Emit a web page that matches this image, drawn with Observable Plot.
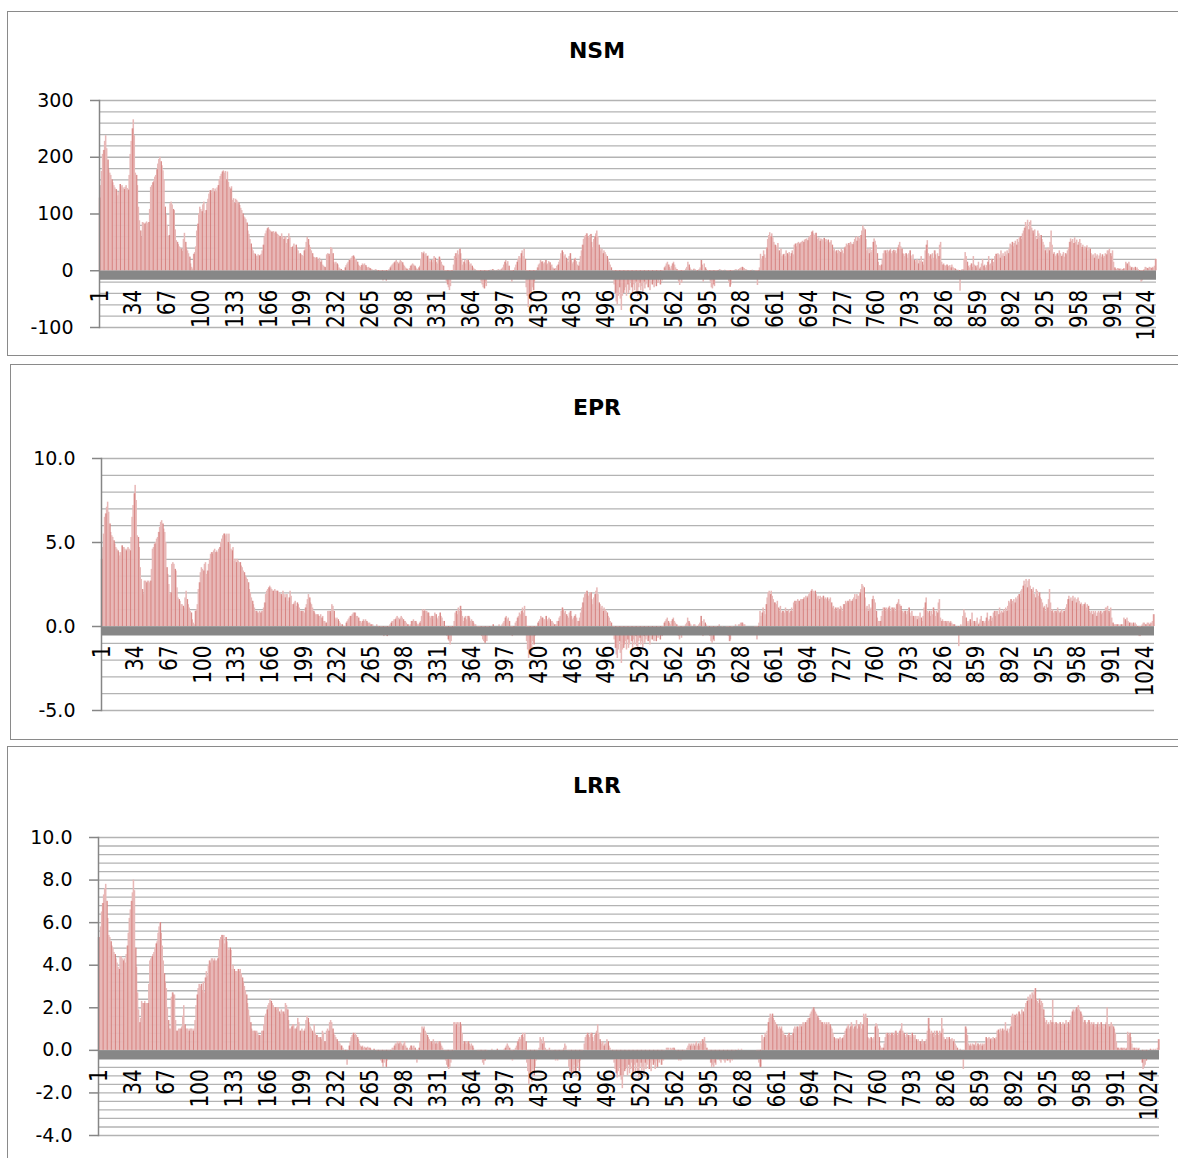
<!DOCTYPE html>
<html><head><meta charset="utf-8">
<script src="https://cdn.jsdelivr.net/npm/d3@7"></script>
<script src="https://cdn.jsdelivr.net/npm/@observablehq/plot@0.6"></script>
<style>
html,body{margin:0;padding:0;background:#fff}
body{width:1178px;height:1158px;overflow:hidden;position:relative;font-family:"DejaVu Sans",sans-serif}
.panel{position:absolute;border:1.5px solid #8a8a8a;box-sizing:border-box;background:#fff}
.title{position:absolute;left:0;width:1194px;text-align:center;font:bold 22px "DejaVu Sans",sans-serif;line-height:22px;color:#000}
.chart{position:absolute;left:0}
</style></head><body>
<div class="panel" style="left:7px;top:11px;width:1200px;height:345px"></div>
<div class="panel" style="left:10px;top:364px;width:1200px;height:376px"></div>
<div class="panel" style="left:7px;top:746px;width:1200px;height:440px"></div>
<div class="title" style="top:40px">NSM</div>
<div class="title" style="top:397px">EPR</div>
<div class="title" style="top:775px">LRR</div>
<div class="chart" id="c1" style="top:80px"></div>
<div class="chart" id="c2" style="top:438px"></div>
<div class="chart" id="c3" style="top:817px"></div>
<script>
// category tick labels (transect numbers)
const xTicks = [1,34,67,100,133,166,199,232,265,298,331,364,397,430,463,496,529,562,595,628,661,694,727,760,793,826,859,892,925,958,991,1024];
const nsmTicks = [-100,0,100,200,300];
const eprTicks = [-5,0,5,10];
const lrrTicks = [-4,-2,0,2,4,6,8,10];

// NSM (m), transects 1..1033
const nsm = [
128,150,175,205,212,228,238,215,195,178,
172,168,160,155,150,146,143,140,132,138,
152,148,150,146,143,147,150,145,142,168,
205,228,250,266,238,172,168,150,112,88,
70,59,85,84,82,84,86,83,85,108,
147,150,155,158,165,168,178,188,196,200,
192,185,176,160,112,98,80,59,62,118,
121,116,108,106,72,53,50,46,42,40,
38,34,55,66,50,40,35,30,24,12,
6,3,29,32,42,70,82,100,112,108,
104,116,121,98,106,118,126,135,141,137,
142,145,139,144,140,146,150,160,166,170,
174,176,172,175,160,174,156,147,144,148,
124,127,119,126,124,121,119,115,110,106,
100,95,93,90,84,70,64,55,47,40,
35,30,29,26,25,28,26,27,29,35,
45,59,65,70,74,76,72,70,68,68,
69,66,68,65,64,62,60,58,65,60,
55,59,60,48,55,65,58,41,41,43,
47,38,45,40,35,29,30,28,27,25,
35,40,50,59,55,45,41,35,30,24,
23,22,23,20,18,22,15,18,10,8,
6,5,28,30,29,25,41,39,30,15,
12,15,12,10,5,3,2,0,-3,-2,
5,9,12,15,18,20,22,25,26,24,
20,18,15,10,8,6,9,12,10,12,
9,6,5,6,4,3,2,1,0,1,
2,0,-2,-5,-8,-10,-15,-18,-12,-5,
-18,-8,-3,2,5,8,10,12,14,16,
18,15,12,15,18,16,14,10,8,5,
3,2,0,4,8,10,12,10,8,5,
3,2,5,8,20,32,30,33,28,30,
25,26,20,15,18,14,20,25,22,15,
12,18,24,20,15,10,8,-5,-10,-20,
-25,-30,-35,-28,-15,-8,10,25,30,22,
35,28,38,30,20,10,15,18,12,20,
18,15,10,12,8,5,3,2,0,-2,
-5,-8,-15,-20,-25,-30,-32,-20,-28,-10,
-2,0,1,0,2,1,0,-1,0,1,
2,0,1,3,5,10,15,18,12,16,
8,0,-5,-20,-10,0,5,10,15,20,
25,22,30,35,25,38,20,-30,-45,-65,
-50,-40,-55,-30,-35,-20,-10,0,5,10,
12,18,15,16,12,14,18,10,12,16,
14,8,10,5,3,2,4,8,10,15,
20,30,35,32,25,28,22,18,15,25,
30,18,12,15,20,22,16,10,8,15,
25,35,45,55,60,62,65,60,58,62,
64,50,40,55,60,65,70,60,45,40,
35,38,30,35,32,28,25,20,15,10,
5,0,-10,-25,-40,-55,-60,-45,-30,-50,
-70,-45,-40,-35,-30,-45,-25,-40,-35,-20,
-30,-42,-25,-35,-20,-38,-45,-30,-22,-35,
-28,-40,-20,-32,-25,-18,-30,-22,-35,-15,
-25,-20,-30,-18,-28,-15,-22,-12,-25,-10,
-18,-8,5,8,12,15,10,6,3,8,
12,15,10,5,2,-10,-20,-26,-15,-22,
-10,-5,0,3,6,15,10,5,2,0,
1,3,2,0,-2,0,2,5,18,10,
-20,12,5,2,0,-5,-10,-20,-30,-32,
-25,-28,-15,-10,-5,0,2,1,0,-2,
0,1,0,-3,-5,-20,-29,-25,-15,-5,
0,1,2,0,1,2,4,5,6,5,
4,2,1,0,0,0,-1,0,1,0,
0,-2,-8,-26,-10,5,29,20,25,35,
28,22,40,55,62,67,60,65,58,50,
45,44,40,48,35,30,38,25,28,29,
25,35,30,28,32,25,30,35,28,45,
47,42,48,50,47,49,50,52,50,54,
55,56,53,58,60,62,68,70,65,62,
66,60,55,58,52,56,55,53,57,50,
55,52,54,48,50,53,45,35,38,33,
35,30,36,34,32,38,35,30,40,42,
47,45,48,44,50,47,46,50,55,59,
52,60,58,56,62,70,79,75,72,55,
35,38,30,40,32,36,50,56,52,45,
30,15,9,8,10,20,30,35,35,30,
36,33,35,38,30,34,36,32,35,30,
40,45,50,42,38,30,29,25,30,28,
22,30,35,26,20,28,18,15,18,20,
12,18,16,25,15,10,20,35,45,53,
30,25,28,20,30,22,35,28,20,30,
25,45,50,15,10,12,9,8,10,6,
8,9,5,10,6,4,3,2,0,1,
-5,-36,0,2,1,20,32,25,15,8,
5,9,12,6,25,10,8,5,9,15,
3,6,12,20,8,10,5,9,15,25,
10,12,20,8,15,25,29,20,30,28,
22,35,26,30,25,33,28,35,30,38,
47,45,50,42,48,52,45,55,50,58,
60,55,65,70,75,85,80,89,72,85,
88,75,70,65,72,60,55,70,65,58,
62,55,50,45,35,38,30,40,35,50,
70,45,29,32,25,28,30,26,35,30,
25,28,32,24,30,28,35,40,50,56,
52,55,48,58,50,54,45,50,55,48,
41,45,38,42,40,44,35,40,38,30,
26,28,22,30,25,28,20,26,30,24,
28,22,25,30,28,35,35,38,30,25,
35,15,5,3,2,4,3,2,3,1,
2,4,3,15,12,10,15,8,5,6,
5,4,6,3,5,2,-5,-15,-20,-18,
-10,2,6,5,4,3,6,5,4,6,
5,8,20
];

// EPR (m/yr), transects 1..1033
const epr = [
4.0,4.7,5.5,6.5,6.7,7.1,7.4,6.8,6.1,5.6,
5.4,5.3,5.1,4.9,4.7,4.6,4.5,4.4,4.2,4.4,
4.8,4.7,4.7,4.6,4.5,4.6,4.7,4.6,4.5,5.3,
6.5,7.2,7.9,8.4,7.5,5.4,5.3,4.7,3.5,2.8,
2.2,1.9,2.7,2.7,2.6,2.7,2.7,2.6,2.7,3.4,
4.6,4.7,4.9,5.0,5.2,5.3,5.6,5.9,6.2,6.3,
6.1,5.8,5.6,5.0,3.5,3.1,2.5,1.9,2.0,3.7,
3.8,3.7,3.4,3.3,2.3,1.7,1.6,1.5,1.3,1.3,
1.2,1.1,1.7,2.1,1.6,1.3,1.1,0.9,0.8,0.4,
0.2,0.1,0.9,1.0,1.3,2.2,2.6,3.2,3.5,3.4,
3.3,3.7,3.8,3.1,3.3,3.7,4.0,4.3,4.4,4.3,
4.5,4.6,4.4,4.5,4.4,4.6,4.7,5.0,5.2,5.4,
5.5,5.5,5.4,5.5,5.0,5.5,4.9,4.6,4.5,4.7,
3.9,4.0,3.8,4.0,3.9,3.8,3.8,3.6,3.5,3.3,
3.2,3.0,2.9,2.8,2.6,2.2,2.0,1.7,1.5,1.3,
1.1,0.9,0.9,0.8,0.8,0.9,0.8,0.9,0.9,1.1,
1.4,1.9,2.1,2.2,2.3,2.4,2.3,2.2,2.1,2.1,
2.2,2.1,2.1,2.1,2.0,2.0,1.9,1.8,2.1,1.9,
1.7,1.9,1.9,1.5,1.7,2.1,1.8,1.3,1.3,1.4,
1.5,1.2,1.4,1.3,1.1,0.9,0.9,0.9,0.9,0.8,
1.1,1.3,1.6,1.9,1.7,1.4,1.3,1.1,0.9,0.8,
0.7,0.7,0.7,0.6,0.6,0.7,0.5,0.6,0.3,0.3,
0.2,0.2,0.9,0.9,0.9,0.8,1.3,1.2,0.9,0.5,
0.4,0.5,0.4,0.3,0.2,0.1,0.1,0.0,-0.1,-0.1,
0.2,0.3,0.4,0.5,0.6,0.6,0.7,0.8,0.8,0.8,
0.6,0.6,0.5,0.3,0.3,0.2,0.3,0.4,0.3,0.4,
0.3,0.2,0.2,0.2,0.1,0.1,0.1,0.0,0.0,0.0,
0.1,0.0,-0.1,-0.2,-0.3,-0.3,-0.5,-0.6,-0.4,-0.2,
-0.6,-0.3,-0.1,0.1,0.2,0.3,0.3,0.4,0.4,0.5,
0.6,0.5,0.4,0.5,0.6,0.5,0.4,0.3,0.3,0.2,
0.1,0.1,0.0,0.1,0.3,0.3,0.4,0.3,0.3,0.2,
0.1,0.1,0.2,0.3,0.6,1.0,0.9,1.0,0.9,0.9,
0.8,0.8,0.6,0.5,0.6,0.4,0.6,0.8,0.7,0.5,
0.4,0.6,0.8,0.6,0.5,0.3,0.3,-0.2,-0.3,-0.6,
-0.8,-0.9,-1.1,-0.9,-0.5,-0.3,0.3,0.8,0.9,0.7,
1.1,0.9,1.2,0.9,0.6,0.3,0.5,0.6,0.4,0.6,
0.6,0.5,0.3,0.4,0.3,0.2,0.1,0.1,0.0,-0.1,
-0.2,-0.3,-0.5,-0.6,-0.8,-0.9,-1.0,-0.6,-0.9,-0.3,
-0.1,0.0,0.0,0.0,0.1,0.0,0.0,0.0,0.0,0.0,
0.1,0.0,0.0,0.1,0.2,0.3,0.5,0.6,0.4,0.5,
0.3,0.0,-0.2,-0.6,-0.3,0.0,0.2,0.3,0.5,0.6,
0.8,0.7,0.9,1.1,0.8,1.2,0.6,-0.9,-1.4,-1.9,
-1.6,-1.3,-1.7,-0.9,-1.1,-0.6,-0.3,0.0,0.2,0.3,
0.4,0.6,0.5,0.5,0.4,0.4,0.6,0.3,0.4,0.5,
0.4,0.3,0.3,0.2,0.1,0.1,0.1,0.3,0.3,0.5,
0.6,0.9,1.1,1.0,0.8,0.9,0.7,0.6,0.5,0.8,
0.9,0.6,0.4,0.5,0.6,0.7,0.5,0.3,0.3,0.5,
0.8,1.1,1.4,1.7,1.9,2.0,2.1,1.9,1.8,2.0,
2.0,1.6,1.3,1.7,1.9,2.1,2.3,1.9,1.4,1.3,
1.1,1.2,0.9,1.1,1.0,0.9,0.8,0.6,0.5,0.3,
0.2,0.0,-0.3,-0.8,-1.3,-1.7,-1.9,-1.4,-0.9,-1.6,
-2.2,-1.4,-1.3,-1.1,-0.9,-1.4,-0.8,-1.3,-1.1,-0.6,
-0.9,-1.3,-0.8,-1.1,-0.6,-1.2,-1.4,-0.9,-0.7,-1.1,
-0.9,-1.3,-0.6,-1.0,-0.8,-0.6,-0.9,-0.7,-1.1,-0.5,
-0.8,-0.6,-0.9,-0.6,-0.9,-0.5,-0.7,-0.4,-0.8,-0.3,
-0.6,-0.3,0.2,0.3,0.4,0.5,0.3,0.2,0.1,0.3,
0.4,0.5,0.3,0.2,0.1,-0.3,-0.6,-0.8,-0.5,-0.7,
-0.3,-0.2,0.0,0.1,0.2,0.5,0.3,0.2,0.1,0.0,
0.0,0.1,0.1,0.0,-0.1,0.0,0.1,0.2,0.6,0.3,
-0.6,0.4,0.2,0.1,0.0,-0.2,-0.3,-0.6,-0.9,-1.0,
-0.8,-0.9,-0.5,-0.3,-0.2,0.0,0.1,0.0,0.0,-0.1,
0.0,0.0,0.0,-0.1,-0.2,-0.6,-0.9,-0.8,-0.5,-0.2,
0.0,0.0,0.1,0.0,0.0,0.1,0.1,0.2,0.2,0.2,
0.1,0.1,0.0,0.0,0.0,0.0,0.0,0.0,0.0,0.0,
0.0,-0.1,-0.3,-0.8,-0.3,0.2,0.9,0.6,0.8,1.1,
0.9,0.7,1.3,1.7,2.0,2.1,1.9,2.1,1.8,1.6,
1.4,1.4,1.3,1.5,1.1,0.9,1.2,0.8,0.9,0.9,
0.8,1.1,0.9,0.9,1.0,0.8,0.9,1.1,0.9,1.4,
1.5,1.3,1.5,1.6,1.5,1.5,1.6,1.6,1.6,1.7,
1.7,1.8,1.7,1.8,1.9,2.0,2.1,2.2,2.1,2.0,
2.1,1.9,1.7,1.8,1.6,1.8,1.7,1.7,1.8,1.6,
1.7,1.6,1.7,1.5,1.6,1.7,1.4,1.1,1.2,1.0,
1.1,0.9,1.1,1.1,1.0,1.2,1.1,0.9,1.3,1.3,
1.5,1.4,1.5,1.4,1.6,1.5,1.5,1.6,1.7,1.9,
1.6,1.9,1.8,1.8,2.0,2.2,2.5,2.4,2.3,1.7,
1.1,1.2,0.9,1.3,1.0,1.1,1.6,1.8,1.6,1.4,
0.9,0.5,0.3,0.3,0.3,0.6,0.9,1.1,1.1,0.9,
1.1,1.0,1.1,1.2,0.9,1.1,1.1,1.0,1.1,0.9,
1.3,1.4,1.6,1.3,1.2,0.9,0.9,0.8,0.9,0.9,
0.7,0.9,1.1,0.8,0.6,0.9,0.6,0.5,0.6,0.6,
0.4,0.6,0.5,0.8,0.5,0.3,0.6,1.1,1.4,1.7,
0.9,0.8,0.9,0.6,0.9,0.7,1.1,0.9,0.6,0.9,
0.8,1.4,1.6,0.5,0.3,0.4,0.3,0.3,0.3,0.2,
0.3,0.3,0.2,0.3,0.2,0.1,0.1,0.1,0.0,0.0,
-0.2,-1.2,0.0,0.1,0.0,0.6,1.0,0.8,0.5,0.3,
0.2,0.3,0.4,0.2,0.8,0.3,0.3,0.2,0.3,0.5,
0.1,0.2,0.4,0.6,0.3,0.3,0.2,0.3,0.5,0.8,
0.3,0.4,0.6,0.3,0.5,0.8,0.9,0.6,0.9,0.9,
0.7,1.1,0.8,0.9,0.8,1.0,0.9,1.1,0.9,1.2,
1.5,1.4,1.6,1.3,1.5,1.6,1.4,1.7,1.6,1.8,
1.9,1.7,2.1,2.2,2.4,2.7,2.5,2.8,2.3,2.7,
2.8,2.4,2.2,2.1,2.3,1.9,1.7,2.2,2.1,1.8,
2.0,1.7,1.6,1.4,1.1,1.2,0.9,1.3,1.1,1.6,
2.2,1.4,0.9,1.0,0.8,0.9,0.9,0.8,1.1,0.9,
0.8,0.9,1.0,0.8,0.9,0.9,1.1,1.3,1.6,1.8,
1.6,1.7,1.5,1.8,1.6,1.7,1.4,1.6,1.7,1.5,
1.3,1.4,1.2,1.3,1.3,1.4,1.1,1.3,1.2,0.9,
0.8,0.9,0.7,0.9,0.8,0.9,0.6,0.8,0.9,0.8,
0.9,0.7,0.8,0.9,0.9,1.1,1.1,1.2,0.9,0.8,
1.1,0.5,0.2,0.1,0.1,0.1,0.1,0.1,0.1,0.0,
0.1,0.1,0.1,0.5,0.4,0.3,0.5,0.3,0.2,0.2,
0.2,0.1,0.2,0.1,0.2,0.1,-0.2,-0.5,-0.6,-0.6,
-0.3,0.1,0.2,0.2,0.1,0.1,0.2,0.2,0.1,0.2,
0.2,0.3,0.7
];

// LRR (m/yr), transects 1..1033
const lrr = [
5.3,5.3,5.8,6.5,6.9,7.3,7.6,7.8,7.0,6.2,
5.4,5.3,5.1,4.9,4.8,4.6,4.5,4.3,4.1,3.9,
3.8,4.4,4.4,4.3,4.2,4.3,4.1,4.5,4.9,5.5,
6.2,6.6,7.0,7.4,8.0,7.5,4.8,3.9,2.7,1.9,
1.3,1.5,2.3,2.2,2.2,2.3,2.2,2.2,2.2,3.1,
4.2,4.3,4.4,4.5,4.6,4.8,5.0,5.1,5.5,5.8,
6.0,5.5,4.9,4.2,3.6,3.2,2.9,2.0,1.4,1.0,
1.0,2.5,2.7,2.6,2.6,1.4,0.9,0.9,1.0,1.0,
1.0,1.1,1.6,2.1,1.2,1.0,1.0,1.0,0.9,1.0,
1.0,1.0,0.9,1.0,1.4,2.1,2.6,2.9,3.1,3.0,
3.1,2.8,3.2,2.7,3.4,3.7,3.5,4.0,4.2,4.1,
4.3,4.3,4.2,4.3,4.2,4.2,4.3,4.8,5.2,5.3,
5.4,5.2,5.4,5.0,5.3,5.1,4.8,4.7,4.8,4.7,
3.8,4.0,3.8,3.7,3.7,3.7,3.8,3.7,3.8,3.6,
3.4,3.2,3.0,2.8,2.6,2.2,1.9,1.6,1.3,1.0,
0.9,0.9,0.9,0.8,0.9,0.8,0.7,0.7,0.7,0.9,
0.9,1.2,1.6,1.7,1.9,2.1,2.2,2.4,2.3,2.2,
2.1,2.0,2.0,1.9,2.0,2.0,1.8,1.7,1.9,1.8,
1.8,1.7,2.2,2.1,1.9,1.4,1.0,1.0,1.1,1.2,
1.2,1.0,1.0,1.1,1.5,1.3,0.9,0.9,1.0,0.9,
0.9,1.0,1.4,1.6,1.5,1.3,1.1,1.0,0.9,0.8,
1.2,0.8,0.7,0.7,0.6,0.6,0.6,0.5,0.9,0.8,
0.4,0.4,0.9,1.0,0.9,1.3,1.4,1.3,1.0,0.8,
0.7,0.6,0.5,0.4,0.4,0.3,0.2,0.2,0.1,0.0,
-0.2,-0.4,-0.7,0.0,0.2,0.4,0.6,0.7,0.8,0.7,
0.8,0.7,0.6,0.5,0.3,0.2,0.15,0.2,0.1,0.15,
0.1,0.1,0.15,0.1,0.1,0.05,0.0,0.0,0.05,0.0,
0.0,-0.1,-0.2,-0.3,-0.4,-0.5,-0.6,-0.8,-0.6,-0.4,
-0.8,-0.5,-0.3,-0.4,-0.2,0.0,0.1,0.1,0.2,0.3,
0.3,0.4,0.3,0.4,0.4,0.3,0.2,0.3,0.4,0.2,
0.1,0.0,0.0,0.1,0.2,0.2,0.1,0.2,0.1,0.0,
-0.6,0.0,0.1,0.4,0.8,1.1,1.0,1.1,0.9,0.8,
0.7,0.6,0.5,0.4,0.4,0.3,0.5,0.4,0.3,0.4,
0.3,0.4,0.4,0.3,0.2,0.1,0.0,-0.3,-0.5,-0.7,
-0.8,-0.9,-0.8,-0.6,-0.3,-0.1,1.3,1.3,1.2,1.3,
1.3,1.1,1.3,1.2,0.8,0.3,0.4,0.4,0.3,0.4,
0.4,0.3,0.2,0.3,0.2,0.1,0.0,0.0,0.0,-0.1,
-0.1,-0.2,-0.3,-0.4,-0.6,-0.7,-0.5,-0.3,-0.1,0.0,
0.0,0.0,0.0,0.05,0.0,0.0,0.0,0.0,0.05,0.0,
0.0,0.0,0.0,0.0,0.0,0.05,0.1,0.2,0.3,0.2,
0.1,0.0,-0.2,-0.5,-0.2,0.0,0.1,0.2,0.4,0.5,
0.6,0.5,0.7,0.8,0.6,0.8,0.4,-0.6,-1.0,-1.6,
-1.2,-1.0,-1.5,-0.9,-1.2,-0.8,-0.5,-0.2,0.0,0.1,
0.6,0.5,0.3,0.6,0.4,0.1,-0.1,-0.3,-0.1,0.1,
0.0,-0.2,-0.1,0.0,-0.3,-0.5,-0.4,-0.5,-0.3,-0.1,
-0.2,-0.4,-0.2,0.1,0.3,0.2,0.0,-0.3,-0.8,-1.0,
-1.2,-0.9,-1.1,-0.7,-1.0,-1.2,-0.8,-0.6,-1.0,-0.5,
-0.4,-0.2,0.0,0.3,0.6,0.7,0.8,0.7,0.6,0.8,
0.8,0.6,0.4,0.7,0.8,0.9,1.2,0.8,0.5,0.4,
0.3,0.4,0.2,0.3,0.3,0.5,0.4,0.2,0.1,0.0,
-0.2,-0.4,-0.6,-0.9,-1.1,-1.3,-1.0,-0.8,-1.2,-1.4,
-1.8,-1.2,-1.0,-0.9,-0.8,-1.2,-0.7,-1.1,-0.9,-0.6,
-1.3,-1.0,-0.7,-1.0,-0.6,-1.1,-1.3,-0.8,-0.6,-1.0,
-0.8,-1.2,-0.6,-0.9,-0.7,-0.5,-0.9,-0.6,-1.0,-0.5,
-0.7,-0.6,-0.9,-0.5,-0.8,-0.4,-0.6,-0.3,-0.7,-0.3,
-0.5,-0.2,0.0,0.1,0.1,0.1,0.0,0.1,0.05,0.1,
0.1,0.05,0.0,-0.2,-0.4,-0.5,-0.4,-0.5,-0.3,-0.4,
-0.2,-0.1,0.0,0.1,0.2,0.3,0.2,0.3,0.2,0.3,
0.2,0.3,0.4,0.2,0.3,0.2,0.4,0.3,0.5,0.4,
0.6,0.3,0.1,0.0,-0.2,-0.4,-0.6,-0.8,-0.7,-0.8,
-0.6,-0.7,-0.4,-0.2,-0.3,-0.5,-0.6,-0.4,-0.3,-0.5,
-0.6,-0.4,-0.5,-0.3,-0.5,-0.6,-0.4,-0.5,-0.3,-0.2,
-0.1,0.0,0.0,0.05,0.0,0.0,0.05,0.0,0.0,0.0,
0.0,0.0,0.0,0.0,0.0,0.0,0.0,0.0,0.0,0.0,
0.0,-0.1,-0.3,-0.6,-0.8,-0.8,0.7,0.5,0.6,0.8,
0.7,0.9,1.3,1.5,1.7,1.6,1.7,1.5,1.4,1.3,
1.2,1.1,1.0,1.1,1.0,1.1,0.9,0.8,0.7,0.7,
0.6,0.7,0.8,0.6,0.7,0.7,0.8,1.0,1.1,1.0,
1.1,1.0,1.1,1.2,1.1,1.2,1.3,1.2,1.3,1.3,
1.4,1.5,1.5,1.7,1.8,1.9,2.0,1.9,1.8,1.7,
1.6,1.5,1.4,1.4,1.3,1.3,1.2,1.3,1.2,1.3,
1.2,1.3,1.2,1.1,1.0,0.8,0.6,0.55,0.5,0.55,
0.5,0.55,0.6,0.5,0.55,0.6,0.7,0.9,1.0,1.1,
1.2,1.0,1.1,1.3,1.2,1.0,1.1,1.2,1.4,1.0,
1.2,1.1,1.3,1.0,1.2,1.7,1.6,1.7,1.5,0.6,
0.55,0.5,0.6,0.55,0.5,0.6,1.1,1.25,1.2,1.0,
0.6,0.2,0.1,0.1,0.1,0.3,0.6,0.8,0.8,0.7,
0.8,0.7,0.8,0.8,0.7,0.8,0.9,0.8,0.7,0.8,
0.9,1.0,1.25,0.9,0.8,0.7,0.6,0.8,0.7,0.6,
0.7,0.6,0.8,0.7,0.6,0.7,0.5,0.4,0.5,0.4,
0.4,0.3,0.5,0.4,0.4,0.3,0.5,0.9,1.5,1.0,
0.8,0.9,0.8,0.6,0.9,0.7,0.9,0.8,0.7,0.9,
0.8,1.5,1.0,0.6,0.5,0.5,0.6,0.5,0.6,0.5,
0.5,0.55,0.4,0.5,0.3,0.2,0.1,0.0,0.0,0.05,
0.0,0.0,-0.9,0.0,1.1,1.0,0.7,0.3,0.2,0.3,
0.2,0.3,0.25,0.2,0.4,0.2,0.3,0.2,0.25,0.3,
0.2,0.3,0.25,0.3,0.6,0.5,0.55,0.6,0.5,0.55,
0.5,0.6,0.55,0.5,0.6,0.9,0.95,0.8,1.0,0.9,
1.0,0.9,0.95,1.3,0.9,1.0,0.8,1.0,1.1,1.6,
1.7,1.6,1.65,1.5,1.7,1.6,1.8,1.7,1.65,1.9,
1.8,1.7,2.0,2.2,2.3,2.5,2.4,2.6,2.4,2.7,
2.6,2.8,2.9,2.4,2.3,2.2,2.4,2.1,2.3,2.2,
1.9,1.5,1.3,1.4,1.2,1.3,1.2,1.4,1.3,2.35,
1.3,1.2,1.3,1.1,1.25,1.2,1.3,1.1,1.2,1.3,
1.2,1.25,1.4,1.1,1.3,1.2,1.4,1.6,1.8,1.9,
1.8,1.9,2.0,1.9,2.1,1.9,1.8,1.7,1.6,1.3,
1.4,1.3,1.2,1.3,1.4,1.3,1.2,1.3,1.2,1.3,
1.2,1.1,1.2,1.3,1.1,1.2,1.3,1.1,1.2,1.0,
1.2,1.3,2.0,1.2,1.1,1.2,1.3,1.2,1.1,1.0,
0.8,0.4,0.1,0.1,0.05,0.1,0.1,0.05,0.1,0.1,
0.05,0.1,0.85,0.7,0.8,0.6,0.3,0.1,0.1,0.05,
0.1,0.1,0.05,0.1,0.0,0.0,-0.6,-0.9,-0.8,-0.7,
-0.5,-0.2,0.0,0.0,0.05,0.0,0.0,0.05,0.0,0.05,
0.0,0.1,0.5
];

function chart(values, o) {
  const data = values.map((v, k) => ({i: k + 1, v}));
  const svg = Plot.plot({
    width: 1178,
    height: o.plotH + 40,
    marginTop: 20, marginBottom: 20,
    marginLeft: o.ml, marginRight: o.mr,
    style: {background: "transparent", overflow: "visible", fontFamily: "DejaVu Sans, sans-serif", fontSize: "19px", color: "#000"},
    x: {type: "band", domain: data.map(d => d.i), padding: 0, round: false, axis: null},
    y: {domain: o.domain, axis: null},
    marks: [
      Plot.ruleY(o.grid, {stroke: "#b3b3b3", strokeWidth: 1.3}),
      Plot.barY(data, {x: "i", y: "v", fill: "#e8b8b7", insetLeft: -0.25, insetRight: -0.25}),
      Plot.ruleX(data.filter(d => d.i % 4 === 1), {x: "i", y1: 0, y2: "v", stroke: "#cf6b68", strokeWidth: 0.7}),
      Plot.ruleY([0], {stroke: "#878787", strokeWidth: 9, dy: 4.5}),
      Plot.frame({anchor: "left", stroke: "#868686", strokeWidth: 1.5}),
      Plot.axisY({ticks: o.ticks, tickSize: 9, tickPadding: 17, tickFormat: o.fmt, label: null, fontSize: 19, stroke: "#868686", fill: "#000", strokeWidth: 1.5}),
      Plot.text(xTicks, {x: d => d, y: 0, text: d => String(d), rotate: -90, textAnchor: "end", lineAnchor: "middle", dy: 19, fontSize: 20, fill: "#000"})
    ]
  });
  // widen the rotated category labels a little, like the stretched original
  d3.select(svg).selectAll("text").each(function() {
    const t = this.getAttribute("transform");
    if (t && t.includes("rotate")) this.setAttribute("transform", t + " scale(1,1.2)");
  });
  return svg;
}

document.getElementById("c1").append(chart(nsm, {
  plotH: 227, ml: 99, mr: 22, domain: [-100, 300], ticks: nsmTicks, fmt: d => String(d),
  grid: d3.range(0, 21).map(k => -100 + k * 20)
}));
document.getElementById("c2").append(chart(epr, {
  plotH: 252, ml: 101, mr: 24, domain: [-5, 10], ticks: eprTicks, fmt: d => d.toFixed(1),
  grid: d3.range(0, 16).map(k => -5 + k)
}));
document.getElementById("c3").append(chart(lrr, {
  plotH: 298, ml: 98, mr: 19, domain: [-4, 10], ticks: lrrTicks, fmt: d => d.toFixed(1),
  grid: d3.range(0, 36).map(k => -4 + k * 0.4)
}));
</script>
</body></html>
